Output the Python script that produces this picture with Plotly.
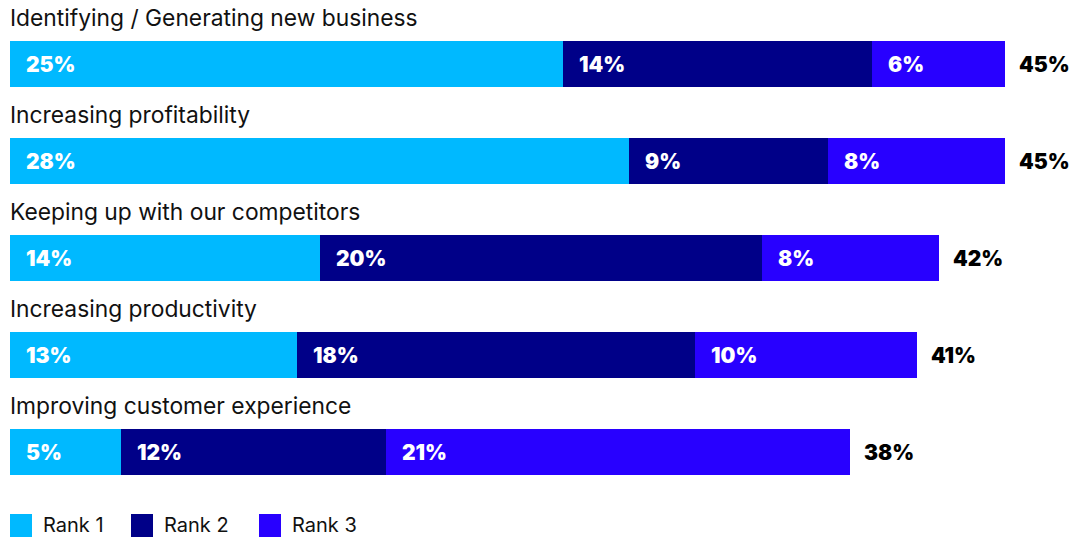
import plotly.graph_objects as go

# Survey data: share of respondents ranking each objective 1st, 2nd, 3rd
categories = [
    "Identifying / Generating new business",
    "Increasing profitability",
    "Keeping up with our competitors",
    "Increasing productivity",
    "Improving customer experience",
]
rank1 = [25, 28, 14, 13, 5]
rank2 = [14, 9, 20, 18, 12]
rank3 = [6, 8, 8, 10, 21]
totals = [45, 45, 42, 41, 38]
series_names = ["Rank 1", "Rank 2", "Rank 3"]
series_colors = ["#00B9FF", "#000088", "#2800FF"]

W, H = 1075, 537
LEFT = 10
PX_PER_PCT = 22.11          # horizontal scale
ROW0_CENTER, ROW_STEP = 64, 97
BAR_PX = 46

x_max = (W - LEFT) / PX_PER_PCT
y_top = -ROW0_CENTER / ROW_STEP
y_bottom = (H - ROW0_CENTER) / ROW_STEP

ypos = list(range(len(categories)))
fig = go.Figure()

series_vals = [rank1, rank2, rank3]
for name, color, vals in zip(series_names, series_colors, series_vals):
    fig.add_trace(go.Bar(
        y=ypos, x=vals, name=name, orientation="h",
        marker=dict(color=color, line=dict(width=0)),
        width=BAR_PX / ROW_STEP,
        showlegend=False, hoverinfo="skip",
    ))

annotations = []
seg_font = dict(family="Inter", size=21, color="white", weight=900)
for i in ypos:
    start = 0
    for vals in series_vals:
        annotations.append(dict(
            x=start, y=i, xref="x", yref="y", text=f"{vals[i]}%",
            showarrow=False, xanchor="left", yanchor="middle", xshift=14,
            font=seg_font,
        ))
        start += vals[i]

for i, (cat, tot) in enumerate(zip(categories, totals)):
    annotations.append(dict(
        x=0, y=i - 0.475, xref="x", yref="y", text=cat, showarrow=False,
        xanchor="left", yanchor="middle", xshift=-2,
        font=dict(family="Inter", size=22.8, color="#111111"),
    ))
    annotations.append(dict(
        x=tot, y=i, xref="x", yref="y", text=f"{tot}%", showarrow=False,
        xanchor="left", yanchor="middle", xshift=12,
        font=dict(family="Inter", size=21, color="black", weight=900),
    ))

# Legend built from swatches and labels along the bottom edge
shapes = []
legend_x = [10, 131, 259]
for lx, name, color in zip(legend_x, series_names, series_colors):
    shapes.append(dict(
        type="rect", xref="paper", yref="paper",
        x0=(lx - LEFT) / (W - LEFT), x1=(lx + 22 - LEFT) / (W - LEFT),
        y0=0, y1=23 / H, fillcolor=color, line=dict(width=0),
    ))
    annotations.append(dict(
        x=(lx + 31 - LEFT) / (W - LEFT), y=12 / H, xref="paper", yref="paper",
        text=name, showarrow=False, xanchor="left", yanchor="middle",
        font=dict(family="Inter", size=20, color="#111111"),
    ))

fig.update_layout(
    barmode="stack",
    width=W, height=H,
    margin=dict(l=LEFT, r=0, t=0, b=0),
    plot_bgcolor="white", paper_bgcolor="white",
    xaxis=dict(range=[0, x_max], visible=False, fixedrange=True),
    yaxis=dict(range=[y_bottom, y_top], visible=False, fixedrange=True),
    annotations=annotations, shapes=shapes,
    showlegend=False,
)

fig.write_html("out.html")
